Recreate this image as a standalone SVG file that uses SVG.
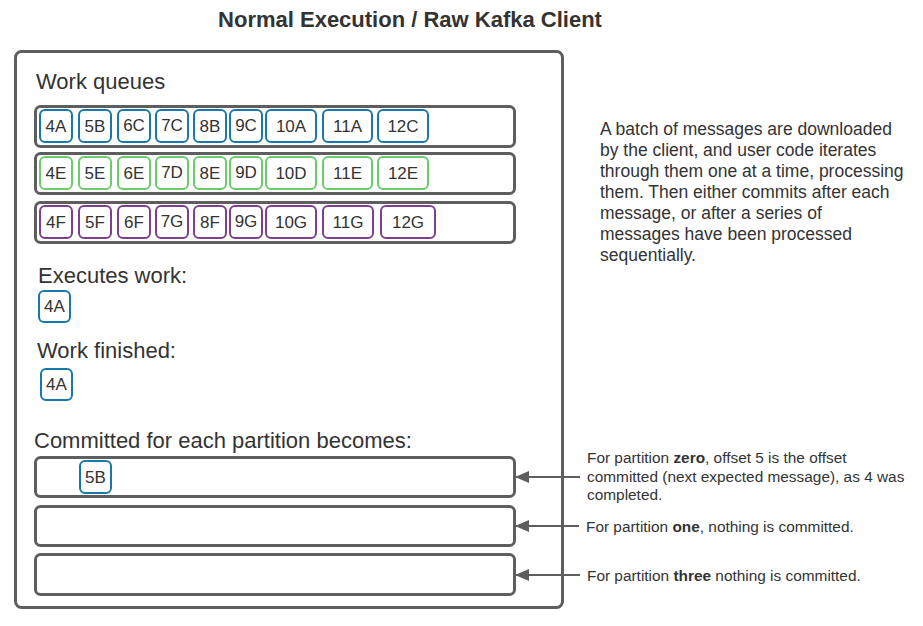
<svg xmlns="http://www.w3.org/2000/svg" width="923" height="626" viewBox="0 0 923 626">
<defs>
<style>
text{font-family:"Liberation Sans",Arial,sans-serif;fill:#333}
.title{font-size:22px;font-weight:bold;text-anchor:middle}
.h{font-size:22px}
.p{font-size:17.5px}
.n{font-size:15.4px}
.cl{font-size:17px;text-anchor:middle}
.frame{fill:#fff;stroke:#5e5e5e;stroke-width:3}
.b{fill:#fff;stroke:#1a78a8;stroke-width:2}
.g{fill:#fff;stroke:#6ccc6c;stroke-width:2}
.v{fill:#fff;stroke:#7e3f8e;stroke-width:2}
.conn{stroke:#5e5e5e;stroke-width:2;fill:none}
</style>
<marker id="ah" markerWidth="14" markerHeight="12" refX="13" refY="6" orient="auto" markerUnits="userSpaceOnUse">
<path d="M0,0 L14,6 L0,12 Z" fill="#5e5e5e"/>
</marker>
</defs>
<rect width="923" height="626" fill="#fff"/>
<text class="title" x="410" y="27">Normal Execution / Raw Kafka Client</text>

<g id="container">
<rect class="frame" x="15.5" y="51.5" width="547" height="556" rx="6"/>
<text class="h" x="36" y="89">Work queues</text>
<text class="h" x="38" y="283">Executes work:</text>
<text class="h" x="37" y="358">Work finished:</text>
<text class="h" x="34" y="448">Committed for each partition becomes:</text>
</g>

<g id="queue-a">
<rect class="frame" x="35.5" y="106.5" width="479" height="40" rx="5"/>
<rect class="b" x="40" y="110" width="32" height="32" rx="5"/><text class="cl" x="56" y="132">4A</text>
<rect class="b" x="79" y="110" width="32" height="32" rx="5"/><text class="cl" x="95" y="132">5B</text>
<rect class="b" x="118" y="110" width="32" height="32" rx="5"/><text class="cl" x="134" y="131">6C</text>
<rect class="b" x="156" y="110" width="32" height="32" rx="5"/><text class="cl" x="172" y="131">7C</text>
<rect class="b" x="194" y="110" width="32" height="32" rx="5"/><text class="cl" x="210" y="132">8B</text>
<rect class="b" x="230" y="110" width="32" height="32" rx="5"/><text class="cl" x="246" y="131">9C</text>
<rect class="b" x="266" y="110" width="50" height="32" rx="5"/><text class="cl" x="291" y="132">10A</text>
<rect class="b" x="323" y="110" width="49" height="32" rx="5"/><text class="cl" x="347.5" y="132">11A</text>
<rect class="b" x="378" y="110" width="50" height="32" rx="5"/><text class="cl" x="403" y="132">12C</text>
</g>

<g id="queue-b">
<rect class="frame" x="35.5" y="153.5" width="479" height="40" rx="5"/>
<rect class="g" x="40" y="157" width="32" height="32" rx="5"/><text class="cl" x="56" y="179">4E</text>
<rect class="g" x="79" y="157" width="32" height="32" rx="5"/><text class="cl" x="95" y="179">5E</text>
<rect class="g" x="118" y="157" width="32" height="32" rx="5"/><text class="cl" x="134" y="179">6E</text>
<rect class="g" x="156" y="157" width="32" height="32" rx="5"/><text class="cl" x="172" y="178">7D</text>
<rect class="g" x="194" y="157" width="32" height="32" rx="5"/><text class="cl" x="210" y="179">8E</text>
<rect class="g" x="230" y="157" width="32" height="32" rx="5"/><text class="cl" x="246" y="178">9D</text>
<rect class="g" x="266" y="157" width="50" height="32" rx="5"/><text class="cl" x="291" y="179">10D</text>
<rect class="g" x="323" y="157" width="49" height="32" rx="5"/><text class="cl" x="347.5" y="179">11E</text>
<rect class="g" x="378" y="157" width="50" height="32" rx="5"/><text class="cl" x="403" y="179">12E</text>
</g>

<g id="queue-c">
<rect class="frame" x="35.5" y="202.5" width="479" height="40" rx="5"/>
<rect class="v" x="40" y="206" width="32" height="32" rx="5"/><text class="cl" x="56" y="228">4F</text>
<rect class="v" x="79" y="206" width="32" height="32" rx="5"/><text class="cl" x="95" y="228">5F</text>
<rect class="v" x="118" y="206" width="32" height="32" rx="5"/><text class="cl" x="134" y="228">6F</text>
<rect class="v" x="156" y="206" width="32" height="32" rx="5"/><text class="cl" x="172" y="227">7G</text>
<rect class="v" x="194" y="206" width="32" height="32" rx="5"/><text class="cl" x="210" y="228">8F</text>
<rect class="v" x="230" y="206" width="32" height="32" rx="5"/><text class="cl" x="246" y="227">9G</text>
<rect class="v" x="266" y="206" width="50" height="32" rx="5"/><text class="cl" x="291" y="228">10G</text>
<rect class="v" x="323" y="206" width="50" height="32" rx="5"/><text class="cl" x="348" y="228">11G</text>
<rect class="v" x="381" y="206" width="54" height="32" rx="5"/><text class="cl" x="408" y="228">12G</text>
</g>

<g id="executing">
<rect class="b" x="39" y="291" width="31" height="31" rx="5"/><text class="cl" x="54.5" y="312">4A</text>
</g>
<g id="finished">
<rect class="b" x="41" y="369" width="31" height="31" rx="5"/><text class="cl" x="56.5" y="390">4A</text>
</g>

<g id="partition-zero">
<rect class="frame" x="35.5" y="457.5" width="479" height="39" rx="5"/>
<rect class="b" x="80" y="461" width="31" height="32" rx="5"/><text class="cl" x="95.5" y="483">5B</text>
</g>
<g id="partition-one">
<rect class="frame" x="35.5" y="506.5" width="479" height="39" rx="5"/>
</g>
<g id="partition-three">
<rect class="frame" x="35.5" y="554.5" width="479" height="40" rx="5"/>
</g>

<g id="connectors">
<line class="conn" x1="580" y1="477" x2="516" y2="477" marker-end="url(#ah)"/>
<line class="conn" x1="579" y1="526" x2="516" y2="526" marker-end="url(#ah)"/>
<line class="conn" x1="580" y1="575" x2="516" y2="575" marker-end="url(#ah)"/>
</g>

<g id="notes">
<text class="p" x="600" y="135">A batch of messages are downloaded</text>
<text class="p" x="600" y="156">by the client, and user code iterates</text>
<text class="p" x="600" y="177">through them one at a time, processing</text>
<text class="p" x="600" y="198">them. Then either commits after each</text>
<text class="p" x="600" y="219">message, or after a series of</text>
<text class="p" x="600" y="240">messages have been processed</text>
<text class="p" x="600" y="261">sequentially.</text>
<text class="n" x="587" y="463">For partition <tspan font-weight="bold">zero</tspan>, offset 5 is the offset</text>
<text class="n" x="587" y="482">committed (next expected message), as 4 was</text>
<text class="n" x="587" y="500">completed.</text>
<text class="n" x="586" y="532">For partition <tspan font-weight="bold">one</tspan>, nothing is committed.</text>
<text class="n" x="587" y="581">For partition <tspan font-weight="bold">three</tspan> nothing is committed.</text>
</g>
</svg>
